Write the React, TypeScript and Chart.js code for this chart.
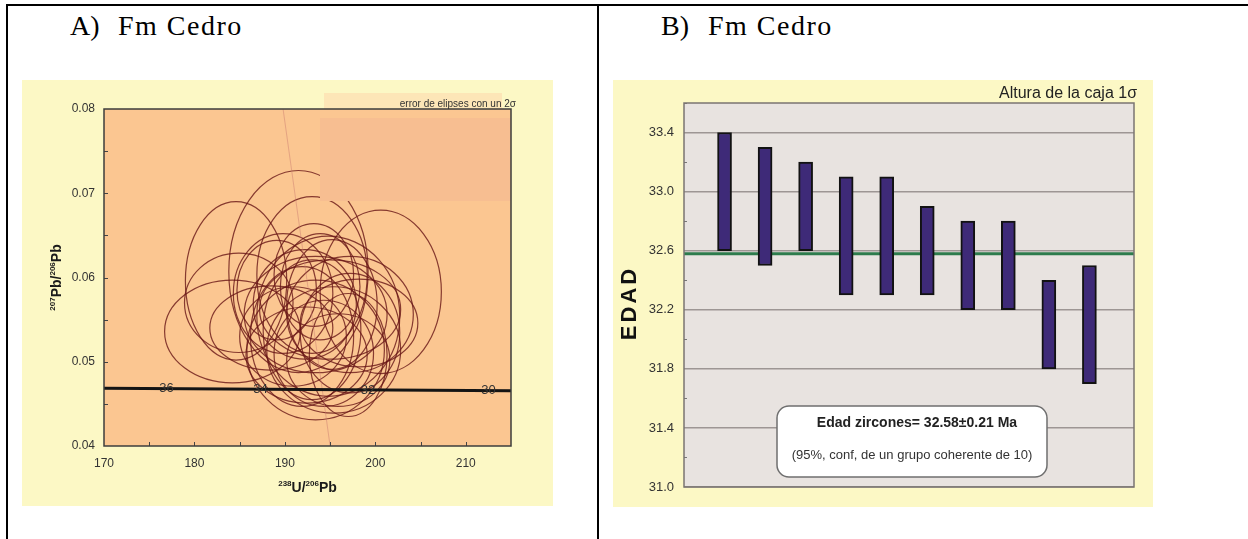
import React, { useEffect, useRef } from "react";
import { Chart, registerables } from "chart.js";

Chart.register(...registerables);

const SANS = "'Liberation Sans', Arial, Helvetica, sans-serif";
const SERIF = "'Liberation Serif', 'Times New Roman', serif";

// ---------- Panel A: Tera-Wasserburg concordia ----------
const xTicksA = [170, 180, 190, 200, 210];
const yTicksA = [0.04, 0.05, 0.06, 0.07, 0.08];
// ellipse centres (238U/206Pb, 207Pb/206Pb) and 2-sigma half-axes
const ellU = [191.5, 184.6, 184.2, 200.6, 193.0, 184.9, 188.5, 193.4, 193.2, 197.2, 189.8, 194.8, 193.0, 193.4, 195.4, 195.2, 191.9, 197.2, 190.9, 194.3, 195.0, 193.9, 197.0, 189.1, 195.9, 192.4, 192.2, 198.2];
const ellPb = [0.0607, 0.0596, 0.0536, 0.0583, 0.0603, 0.057, 0.054, 0.0514, 0.0603, 0.0556, 0.0581, 0.0554, 0.0538, 0.0556, 0.0514, 0.0568, 0.053, 0.0534, 0.053, 0.051, 0.0562, 0.0589, 0.0508, 0.0585, 0.0502, 0.0508, 0.0568, 0.0546];
const ellErrU = [7.7, 5.6, 7.5, 6.7, 6.1, 6.0, 6.8, 7.6, 4.4, 7.0, 5.5, 7.9, 5.4, 7.9, 7.4, 5.0, 5.7, 5.5, 5.9, 5.5, 7.8, 4.4, 4.3, 4.4, 5.7, 6.7, 5.7, 6.5];
const ellErrPb = [0.012, 0.0094, 0.0061, 0.0097, 0.0093, 0.0059, 0.005, 0.0083, 0.0061, 0.0069, 0.0071, 0.0095, 0.0083, 0.0069, 0.0075, 0.0077, 0.0083, 0.0071, 0.0059, 0.0063, 0.0059, 0.0063, 0.0073, 0.0059, 0.0055, 0.0057, 0.0065, 0.0052];
const concordiaU = [170, 215];
const concordiaPb = [0.04685, 0.04655];
const concordiaAges = ["36", "34", "32", "30"];
const concordiaAgeU = [176.9, 187.3, 199.2, 212.5];
const refLineU = [189.8, 195.0];
const refLinePb = [0.08, 0.04];

// ---------- Panel B: ages ----------
const sampleIdx = [1, 2, 3, 4, 5, 6, 7, 8, 9, 10];
const ageLow = [32.6, 32.5, 32.6, 32.3, 32.3, 32.3, 32.2, 32.2, 31.8, 31.7];
const ageHigh = [33.4, 33.3, 33.2, 33.1, 33.1, 32.9, 32.8, 32.8, 32.4, 32.5];
const meanAge = 32.58;
const yTicksB = [31.0, 31.4, 31.8, 32.2, 32.6, 33.0, 33.4];

function drawSupText(ctx: CanvasRenderingContext2D, parts: { t: string; sup?: boolean }[], cx: number, cy: number) {
  const big = `bold 14px ${SANS}`;
  const small = `bold 8px ${SANS}`;
  let total = 0;
  for (const p of parts) {
    ctx.font = p.sup ? small : big;
    total += ctx.measureText(p.t).width;
  }
  let x = cx - total / 2;
  ctx.textAlign = "left";
  ctx.textBaseline = "middle";
  for (const p of parts) {
    ctx.font = p.sup ? small : big;
    ctx.fillText(p.t, x, p.sup ? cy - 4 : cy);
    x += ctx.measureText(p.t).width;
  }
}

const panelAPlugin = {
  id: "panelA",
  beforeDraw(chart: any) {
    const { ctx, chartArea: a, width, height } = chart;
    ctx.save();
    ctx.fillStyle = "#fcf8c5";
    ctx.fillRect(0, 0, width, height);
    ctx.fillStyle = "#fbc691";
    ctx.fillRect(a.left, a.top, a.right - a.left, a.bottom - a.top);
    ctx.fillStyle = "#fde6b7";
    ctx.fillRect(302, 13, 178, 16);
    ctx.restore();
  },
  beforeDatasetsDraw(chart: any) {
    const { ctx, chartArea: a } = chart;
    const xs = chart.scales.x;
    const ys = chart.scales.y;
    ctx.save();
    ctx.beginPath();
    ctx.rect(a.left, a.top, a.right - a.left, a.bottom - a.top);
    ctx.clip();
    ctx.strokeStyle = "rgba(105,22,22,0.8)";
    ctx.lineWidth = 1.2;
    for (let i = 0; i < ellU.length; i++) {
      const cx = xs.getPixelForValue(ellU[i]);
      const cy = ys.getPixelForValue(ellPb[i]);
      const rx = Math.abs(xs.getPixelForValue(ellU[i] + ellErrU[i]) - cx);
      const ry = Math.abs(ys.getPixelForValue(ellPb[i] + ellErrPb[i]) - cy);
      ctx.beginPath();
      ctx.ellipse(cx, cy, rx, ry, 0, 0, Math.PI * 2);
      ctx.stroke();
    }
    ctx.restore();
  },
  afterDatasetsDraw(chart: any) {
    const { ctx, chartArea: a } = chart;
    const xs = chart.scales.x;
    const ys = chart.scales.y;
    ctx.save();
    // inset legend panel
    ctx.fillStyle = "#f7be91";
    ctx.fillRect(298, 38, a.right - 298, 83);
    // concordia age labels
    ctx.font = `13px ${SANS}`;
    ctx.fillStyle = "#333";
    ctx.textAlign = "center";
    ctx.textBaseline = "middle";
    for (let i = 0; i < concordiaAges.length; i++) {
      const u = concordiaAgeU[i];
      const t = (u - concordiaU[0]) / (concordiaU[1] - concordiaU[0]);
      const pb = concordiaPb[0] + t * (concordiaPb[1] - concordiaPb[0]);
      ctx.fillText(concordiaAges[i], xs.getPixelForValue(u), ys.getPixelForValue(pb));
    }
    // inner ticks
    ctx.strokeStyle = "#444";
    ctx.lineWidth = 1;
    for (let v = 175; v < 215; v += 5) {
      const px = Math.round(xs.getPixelForValue(v)) + 0.5;
      ctx.beginPath();
      ctx.moveTo(px, a.bottom);
      ctx.lineTo(px, a.bottom - 4);
      ctx.stroke();
    }
    for (let k = 1; k < 8; k++) {
      const py = Math.round(ys.getPixelForValue(0.04 + k * 0.005)) + 0.5;
      ctx.beginPath();
      ctx.moveTo(a.left, py);
      ctx.lineTo(a.left + 4, py);
      ctx.stroke();
    }
    // frame
    ctx.strokeStyle = "#3d3d3d";
    ctx.lineWidth = 1.5;
    ctx.strokeRect(a.left, a.top, a.right - a.left, a.bottom - a.top);
    // legend text
    ctx.font = `10px ${SANS}`;
    ctx.fillStyle = "#333";
    ctx.textAlign = "right";
    ctx.textBaseline = "middle";
    ctx.fillText("error de elipses con un 2σ", 494, 24);
    // axis titles
    ctx.fillStyle = "#1a1a1a";
    drawSupText(ctx, [{ t: "238", sup: true }, { t: "U/" }, { t: "206", sup: true }, { t: "Pb" }], (a.left + a.right) / 2, 408);
    ctx.translate(35, (a.top + a.bottom) / 2);
    ctx.rotate(-Math.PI / 2);
    drawSupText(ctx, [{ t: "207", sup: true }, { t: "Pb/" }, { t: "206", sup: true }, { t: "Pb" }], 0, 0);
    ctx.restore();
  },
};

const panelBPlugin = {
  id: "panelB",
  beforeDraw(chart: any) {
    const { ctx, chartArea: a, width, height } = chart;
    ctx.save();
    ctx.fillStyle = "#fcf8c5";
    ctx.fillRect(0, 0, width, height);
    ctx.fillStyle = "#e8e3e0";
    ctx.fillRect(a.left, a.top, a.right - a.left, a.bottom - a.top);
    ctx.restore();
  },
  afterDraw(chart: any) {
    const { ctx, chartArea: a } = chart;
    const ys = chart.scales.y;
    ctx.save();
    // minor ticks
    ctx.strokeStyle = "#777";
    ctx.lineWidth = 1;
    for (let k = 0; k < yTicksB.length; k++) {
      const py = Math.round(ys.getPixelForValue(yTicksB[k] + 0.2)) + 0.5;
      ctx.beginPath();
      ctx.moveTo(a.left, py);
      ctx.lineTo(a.left + 3, py);
      ctx.stroke();
    }
    // frame
    ctx.strokeStyle = "#7a7472";
    ctx.lineWidth = 1.5;
    ctx.strokeRect(a.left, a.top, a.right - a.left, a.bottom - a.top);
    // result box
    const bx = 164, by = 326, bw = 270, bh = 71, r = 12;
    ctx.beginPath();
    ctx.moveTo(bx + r, by);
    ctx.arcTo(bx + bw, by, bx + bw, by + bh, r);
    ctx.arcTo(bx + bw, by + bh, bx, by + bh, r);
    ctx.arcTo(bx, by + bh, bx, by, r);
    ctx.arcTo(bx, by, bx + bw, by, r);
    ctx.closePath();
    ctx.fillStyle = "#ffffff";
    ctx.fill();
    ctx.strokeStyle = "#6f6f6f";
    ctx.lineWidth = 1.5;
    ctx.stroke();
    ctx.fillStyle = "#222";
    ctx.textAlign = "center";
    ctx.textBaseline = "middle";
    ctx.font = `bold 14px ${SANS}`;
    ctx.fillText("Edad zircones= 32.58±0.21 Ma", 304, 343);
    ctx.font = `13px ${SANS}`;
    ctx.fillStyle = "#333";
    ctx.fillText("(95%, conf, de un grupo coherente de 10)", 299, 375);
    // header note
    ctx.font = `16px ${SANS}`;
    ctx.fillStyle = "#222";
    ctx.textAlign = "right";
    ctx.fillText("Altura de la caja 1σ", 524, 14);
    // y title
    ctx.translate(17, 223);
    ctx.rotate(-Math.PI / 2);
    ctx.font = `bold 22px ${SANS}`;
    (ctx as any).letterSpacing = "3px";
    ctx.fillStyle = "#111";
    ctx.textAlign = "center";
    ctx.fillText("EDAD", 0, 0);
    ctx.restore();
  },
};

function PanelA() {
  const ref = useRef<HTMLCanvasElement>(null);
  useEffect(() => {
    if (!ref.current) return;
    const chart = new Chart(ref.current, {
      type: "scatter",
      data: {
        datasets: [
          {
            data: concordiaU.map((u, i) => ({ x: u, y: concordiaPb[i] })),
            showLine: true,
            borderColor: "#141414",
            borderWidth: 3,
            pointRadius: 0,
          },
          {
            data: refLineU.map((u, i) => ({ x: u, y: refLinePb[i] })),
            showLine: true,
            borderColor: "rgba(200,120,110,0.45)",
            borderWidth: 1,
            pointRadius: 0,
          },
          {
            data: ellU.map((u, i) => ({ x: u, y: ellPb[i] })),
            pointRadius: 0,
          },
        ],
      },
      options: {
        animation: false,
        responsive: false,
        events: [],
        layout: { padding: { top: 29, right: 42, left: 0, bottom: 0 } },
        plugins: { legend: { display: false }, tooltip: { enabled: false } },
        scales: {
          x: {
            type: "linear",
            min: 170,
            max: 215,
            afterBuildTicks: (s: any) => {
              s.ticks = xTicksA.map((v) => ({ value: v }));
            },
            afterFit: (s: any) => {
              s.height = 60;
            },
            grid: { display: false, drawTicks: false },
            border: { display: false },
            ticks: { font: { size: 12, family: SANS }, color: "#333", padding: 10, maxRotation: 0 },
          },
          y: {
            type: "linear",
            min: 0.04,
            max: 0.08,
            afterBuildTicks: (s: any) => {
              s.ticks = yTicksA.map((v) => ({ value: v }));
            },
            afterFit: (s: any) => {
              s.width = 82;
            },
            grid: { display: false, drawTicks: false },
            border: { display: false },
            ticks: {
              font: { size: 12, family: SANS },
              color: "#333",
              padding: 9,
              callback: (v: any) => Number(v).toFixed(2),
            },
          },
        },
      },
      plugins: [panelAPlugin],
    } as any);
    return () => chart.destroy();
  }, []);
  return (
    <canvas
      ref={ref}
      width={531}
      height={426}
      style={{ position: "absolute", left: 22, top: 80, width: 531, height: 426 }}
    />
  );
}

function PanelB() {
  const ref = useRef<HTMLCanvasElement>(null);
  useEffect(() => {
    if (!ref.current) return;
    const chart = new Chart(ref.current, {
      type: "bar",
      data: {
        datasets: [
          {
            type: "bar",
            data: sampleIdx.map((x, i) => ({ x, y: [ageLow[i], ageHigh[i]] })),
            backgroundColor: "#3e2a78",
            borderColor: "#121212",
            borderWidth: 2,
            borderSkipped: false,
            barThickness: 14,
            order: 0,
          },
          {
            type: "line",
            data: [
              { x: 0, y: meanAge },
              { x: 11.1, y: meanAge },
            ],
            borderColor: "#2d7b4c",
            borderWidth: 3,
            pointRadius: 0,
            order: 1,
          },
        ],
      },
      options: {
        animation: false,
        responsive: false,
        events: [],
        layout: { padding: { top: 23, right: 19, left: 0, bottom: 0 } },
        plugins: { legend: { display: false }, tooltip: { enabled: false } },
        scales: {
          x: {
            type: "linear",
            offset: false,
            min: 0,
            max: 11.1,
            afterFit: (s: any) => {
              s.height = 20;
            },
            grid: { display: false, drawTicks: false, offset: false },
            border: { display: false },
            ticks: { display: false },
          },
          y: {
            type: "linear",
            min: 31.0,
            max: 33.6,
            afterBuildTicks: (s: any) => {
              s.ticks = yTicksB.map((v) => ({ value: v }));
            },
            afterFit: (s: any) => {
              s.width = 71;
            },
            grid: { color: "#9d9694", lineWidth: 1.5, drawTicks: false },
            border: { display: false },
            ticks: {
              font: { size: 13, family: SANS },
              color: "#333",
              padding: 10,
              callback: (v: any) => Number(v).toFixed(1),
            },
          },
        },
      },
      plugins: [panelBPlugin],
    } as any);
    return () => chart.destroy();
  }, []);
  return (
    <canvas
      ref={ref}
      width={540}
      height={427}
      style={{ position: "absolute", left: 613, top: 80, width: 540, height: 427 }}
    />
  );
}

const titleStyle: React.CSSProperties = {
  position: "absolute",
  top: 12,
  fontFamily: SERIF,
  fontSize: 28,
  lineHeight: "28px",
  color: "#000",
  whiteSpace: "pre",
};

export default function App() {
  return (
    <div
      style={{
        position: "absolute",
        left: 0,
        top: 0,
        width: 1248,
        height: 539,
        background: "#fff",
        overflow: "hidden",
      }}
    >
      <div style={{ position: "absolute", left: 6, top: 4, width: 1242, height: 2, background: "#000" }} />
      <div style={{ position: "absolute", left: 6, top: 4, width: 2, height: 535, background: "#000" }} />
      <div style={{ position: "absolute", left: 597, top: 4, width: 2, height: 535, background: "#000" }} />
      <div style={{ ...titleStyle, left: 70 }}>A)</div>
      <div style={{ ...titleStyle, left: 118, letterSpacing: "1.5px" }}>Fm Cedro</div>
      <div style={{ ...titleStyle, left: 661 }}>B)</div>
      <div style={{ ...titleStyle, left: 708, letterSpacing: "1.5px" }}>Fm Cedro</div>
      <PanelA />
      <PanelB />
    </div>
  );
}
